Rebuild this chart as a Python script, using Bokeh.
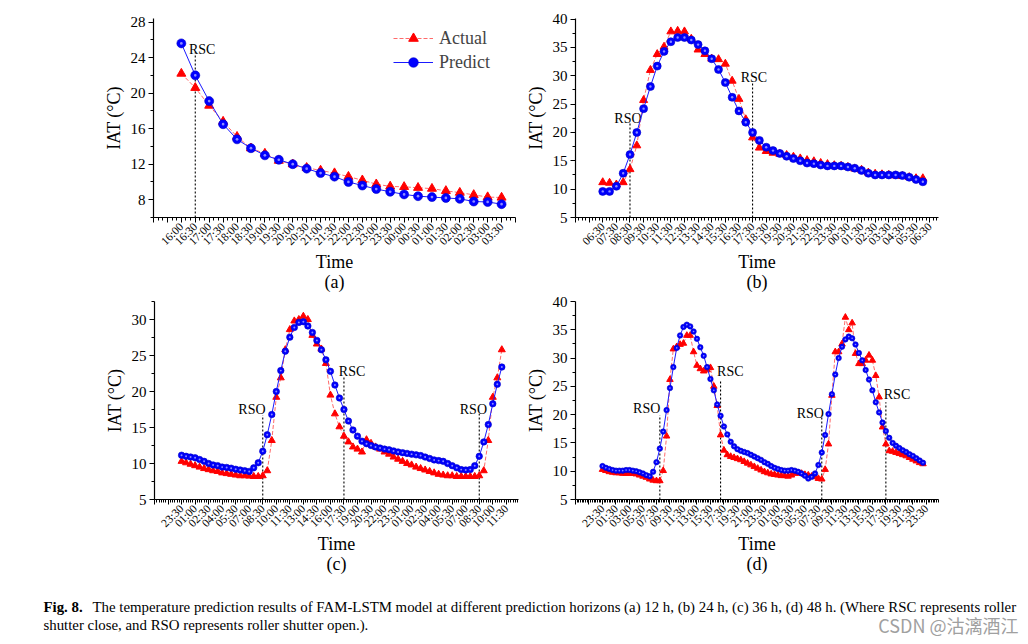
import math
from bokeh.plotting import figure
from bokeh.models import Range1d, FixedTicker, Legend, LegendItem
from bokeh.layouts import column, row
from bokeh.core.properties import value
from bokeh.embed import file_html
from bokeh.resources import INLINE

SERIF = "Liberation Serif"

# ---------------- data ----------------
# (a) 12 h, every 30 min
labels_a = ["16:00", "16:30", "17:00", "17:30", "18:00", "18:30", "19:00", "19:30",
            "20:00", "20:30", "21:00", "21:30", "22:00", "22:30", "23:00", "23:30",
            "00:00", "00:30", "01:00", "01:30", "02:00", "02:30", "03:00", "03:30"]
actual_a = [22.2, 20.6, 18.6, 16.8, 15.1, 13.8, 13.2, 12.4, 12.0, 11.6, 11.3, 11.0,
            10.6, 10.2, 9.75, 9.5, 9.45, 9.35, 9.25, 9.0, 8.8, 8.55, 8.3, 8.25]
predict_a = [25.6, 22.0, 19.1, 16.5, 14.8, 13.8, 13.0, 12.5, 12.0, 11.5, 11.0, 10.6,
             10.0, 9.6, 9.2, 8.9, 8.6, 8.4, 8.3, 8.2, 8.1, 7.8, 7.75, 7.5]

# (b) 24 h, every 30 min
labels_b = ["06:30", "07:30", "08:30", "09:30", "10:30", "11:30", "12:30", "13:30",
            "14:30", "15:30", "16:30", "17:30", "18:30", "19:30", "20:30", "21:30",
            "22:30", "23:30", "00:30", "01:30", "02:30", "03:30", "04:30", "05:30", "06:30"]
actual_b = [11.2, 11.1, 10.8, 11.2, 13.5, 17.7, 25.7, 31.0, 33.8, 35.1, 37.8, 37.9,
            37.8, 36.5, 34.6, 33.8, 33.0, 32.9, 32.1, 29.1, 25.9, 22.3, 19.1, 17.3,
            16.7, 16.4, 16.2, 16.0, 15.7, 15.4, 15.1, 14.9, 14.6, 14.4, 14.2, 14.1,
            13.9, 13.6, 13.4, 12.9, 12.7, 12.6, 12.5, 12.4, 12.3, 12.1, 11.9, 11.9]
predict_b = [9.6, 9.6, 10.5, 12.8, 16.1, 20.0, 24.2, 28.1, 31.7, 34.3, 36.0, 36.75,
             36.75, 36.3, 35.5, 34.4, 33.0, 31.1, 28.8, 26.2, 23.8, 21.8, 20.0, 18.6,
             17.4, 16.8, 16.3, 15.8, 15.4, 15.0, 14.6, 14.5, 14.25, 14.1, 14.1, 14.1,
             13.9, 13.7, 13.3, 12.8, 12.5, 12.5, 12.5, 12.5, 12.4, 12.1, 11.7, 11.3]

# (c) 36 h, every 30 min
labels_c = ["23:30", "01:00", "02:30", "04:00", "05:30", "07:00", "08:30", "10:00",
            "11:30", "13:00", "14:30", "16:00", "17:30", "19:00", "20:30", "22:00",
            "23:30", "01:00", "02:30", "04:00", "05:30", "07:00", "08:30", "10:00", "11:30"]
actual_c = [10.3, 10.1, 9.9, 9.7, 9.5, 9.3, 9.15, 9.0, 8.9, 8.7, 8.6, 8.5,
            8.4, 8.3, 8.3, 8.25, 8.2, 8.2, 8.3, 9.0, 13.2, 19.2, 21.9, 25.8,
            28.6, 29.8, 30.0, 30.45, 30.0, 27.8, 26.6, 25.9, 23.9, 19.5, 16.9, 15.1,
            13.8, 13.0, 12.3, 12.0, 11.6, 13.3, 12.8, 12.3, 12.0, 11.6, 11.3, 10.9,
            10.6, 10.3, 10.0, 9.8, 9.5, 9.3, 9.1, 8.9, 8.7, 8.5, 8.4, 8.3,
            8.3, 8.2, 8.2, 8.2, 8.2, 8.2, 8.3, 9.0, 13.2, 19.2, 21.9, 25.8]
predict_c = [11.15, 11.0, 10.9, 10.8, 10.55, 10.3, 10.0, 9.8, 9.7, 9.5, 9.45, 9.35,
             9.2, 9.1, 9.0, 8.9, 9.4, 10.1, 11.7, 14.0, 16.8, 20.0, 22.9, 25.6,
             27.55, 28.9, 29.6, 29.7, 29.1, 28.2, 27.1, 25.8, 24.4, 22.8, 20.9, 19.1,
             17.5, 15.9, 14.65, 13.8, 13.1, 12.75, 12.5, 12.3, 12.15, 12.0, 11.9, 11.75,
             11.6, 11.5, 11.4, 11.3, 11.2, 11.1, 10.9, 10.7, 10.5, 10.4, 10.3, 10.0,
             9.7, 9.4, 9.15, 9.1, 9.15, 9.7, 11.0, 13.0, 15.4, 18.3, 21.0, 23.4]

# (d) 48 h, every 30 min
labels_d = ["23:30", "01:30", "03:00", "05:30", "07:30", "09:30", "11:30", "13:00",
            "15:30", "17:30", "19:30", "21:00", "23:30", "01:00", "03:30", "05:30",
            "07:30", "09:30", "11:30", "13:30", "15:30", "17:30", "19:30", "21:30", "23:30"]
actual_d = [10.3, 10.1, 9.9, 9.8, 9.7, 9.7, 9.6, 9.6, 9.6, 9.6, 9.5, 9.3,
            9.1, 8.9, 8.6, 8.4, 8.3, 8.3, 10.1, 16.2, 26.2, 31.6, 32.0, 32.4,
            32.6, 34.0, 34.0, 31.1, 28.7, 28.1, 27.7, 27.9, 28.3, 25.0, 21.6, 16.4,
            13.7, 12.9, 12.6, 12.4, 12.2, 12.0, 11.7, 11.4, 11.1, 10.8, 10.5, 10.2,
            9.9, 9.7, 9.5, 9.4, 9.3, 9.2, 9.2, 9.1, 9.3, 9.6, 9.7, 9.6,
            9.4, 9.3, 9.1, 9.0, 8.7, 8.6, 10.3, 14.8, 23.4, 31.1, 31.1, 32.5,
            37.2, 35.0, 36.2, 30.8, 29.0, 29.0, 29.6, 30.5, 29.6, 26.9, 23.1, 17.8,
            14.8, 13.6, 13.5, 13.3, 13.1, 12.9, 12.7, 12.4, 12.1, 11.8, 11.5, 11.3]
predict_d = [10.9, 10.6, 10.4, 10.2, 10.1, 10.1, 10.1, 10.2, 10.2, 10.1, 10.0, 9.8,
             9.6, 9.3, 9.1, 9.9, 11.6, 14.0, 17.0, 20.8, 24.7, 28.4, 31.8, 34.0,
             35.5, 35.9, 35.6, 34.7, 33.4, 31.9, 30.4, 28.4, 26.3, 24.3, 21.8, 19.8,
             17.9, 16.5, 15.2, 14.4, 13.9, 13.6, 13.4, 13.2, 12.9, 12.6, 12.3, 12.0,
             11.6, 11.3, 10.9, 10.6, 10.4, 10.2, 10.1, 10.1, 10.2, 10.1, 9.9, 9.6,
             9.2, 8.7, 9.0, 9.6, 11.1, 13.3, 16.4, 20.1, 23.6, 27.1, 30.0, 32.0,
             33.3, 33.8, 33.5, 32.4, 30.9, 29.6, 27.9, 26.2, 24.3, 22.2, 20.4, 18.6,
             17.1, 15.9, 15.0, 14.5, 14.1, 13.7, 13.4, 13.0, 12.7, 12.3, 11.9, 11.5]

# roller shutter events: (x index of event, line top value, label, label x, label y)
events_a = [(1, 24.6, "RSC", 1.5, 24.9)]
events_b = [(4, 21.6, "RSO", 3.7, 22.5), (22, 28.65, "RSC", 22.2, 29.7)]
events_c = [(18, 16.7, "RSO", 15.6, 17.5), (36, 22.0, "RSC", 37.8, 22.8),
            (66, 16.9, "RSO", 64.7, 17.5)]
events_d = [(17, 19.9, "RSO", 13.1, 21.1), (35, 26.1, "RSC", 37.9, 27.6),
            (65, 19.9, "RSO", 61.6, 20.2), (84, 22.2, "RSC", 87.3, 23.6)]


def frange(a, b, step):
    out = []
    v = a
    while v <= b + 1e-9:
        out.append(round(v, 4))
        v += step
    return out


def make_panel(tag, width, height, borders, xr, label_step, minor_step, labels,
               yr, ymajor, yminor, actual, predict, tri, circ, events, legend=False):
    left, right, top, bottom = borders
    p = figure(width=width, height=height, x_range=Range1d(*xr), y_range=Range1d(*yr),
               output_backend="svg", toolbar_location=None, title=None,
               min_border_left=left, min_border_right=right,
               min_border_top=top, min_border_bottom=bottom)
    p.outline_line_color = None
    p.grid.visible = False
    p.background_fill_color = "white"
    p.border_fill_color = "white"

    n = len(actual)
    xs = list(range(n))

    # x axis ticks
    start = int(math.ceil(xr[0] / label_step)) * label_step
    majors = [t for t in range(start, int(xr[1]) + 1, label_step)]
    minors = [t for t in frange(xr[0], xr[1], minor_step)
              if abs(t / label_step - round(t / label_step)) > 1e-6]
    p.xaxis.ticker = FixedTicker(ticks=majors, minor_ticks=minors)
    overrides = {}
    for t in majors:
        k = t // label_step
        if t >= 0 and k < len(labels):
            overrides[t] = labels[k]
        else:
            overrides[t] = ""
    p.xaxis.major_label_overrides = overrides
    p.xaxis.major_label_orientation = math.pi / 4
    p.xaxis.major_label_text_font = SERIF
    p.xaxis.major_label_text_font_size = "11.5px"
    p.xaxis.major_label_standoff = 2
    p.xaxis.axis_label = "Time\n" + tag
    p.xaxis.axis_label_standoff = -3
    p.xaxis.axis_label_text_line_height = 1.0

    p.yaxis.ticker = FixedTicker(ticks=ymajor, minor_ticks=yminor)
    p.yaxis.major_label_text_font = SERIF
    p.yaxis.major_label_text_font_size = "15px"
    p.yaxis.major_label_standoff = 3
    p.yaxis.axis_label = "IAT (°C)"
    p.yaxis.axis_label_standoff = 4

    for ax in (p.xaxis, p.yaxis):
        ax.axis_label_text_font = SERIF
        ax.axis_label_text_font_size = "18px"
        ax.axis_label_text_font_style = "normal"
        ax.axis_label_text_color = "black"
        ax.major_label_text_color = "black"
        ax.axis_line_color = "black"
        ax.axis_line_width = 1.2
        ax.major_tick_line_color = "black"
        ax.minor_tick_line_color = "black"
        ax.major_tick_in = 0
        ax.major_tick_out = 5
        ax.minor_tick_in = 0
        ax.minor_tick_out = 3

    # event markers
    ex = [e[0] for e in events]
    etop = [e[1] for e in events]
    p.segment(x0=ex, y0=[yr[0]] * len(ex), x1=ex, y1=etop, line_color="black",
              line_width=1.1, line_dash="2 2")
    p.text(x=[e[3] for e in events], y=[e[4] for e in events], text=[e[2] for e in events],
           text_font=value(SERIF), text_font_size="14px", text_align="center",
           text_baseline="middle", text_color="black")

    # series
    r_al = p.line(xs, actual, line_color="#ff6a6a", line_width=1, line_dash="4 2")
    r_ap = p.scatter(xs, actual, marker="triangle", size=tri, fill_color="#ff0000",
                     line_color="#ff0000")
    r_pl = p.line(xs, predict, line_color="#1a1aff", line_width=1)
    r_pp = p.scatter(xs, predict, marker="circle", size=circ, fill_color="#0000ff",
                     line_color="#0000c8", line_width=0.6)
    p.scatter(xs, predict, marker="circle", size=circ * 0.3, fill_color="#8c8cff",
              line_color=None)

    if legend:
        lg = Legend(items=[LegendItem(label="Actual", renderers=[r_al, r_ap]),
                           LegendItem(label="Predict", renderers=[r_pl, r_pp])],
                    location=(240, 143))
        lg.label_text_font = SERIF
        lg.label_text_font_size = "18px"
        lg.glyph_width = 40
        lg.glyph_height = 24
        lg.label_height = 24
        lg.label_standoff = 6
        lg.spacing = 0
        lg.padding = 0
        lg.margin = 0
        lg.border_line_color = None
        lg.background_fill_alpha = 0
        p.add_layout(lg)
    return p


pa = make_panel("(a)", 522, 295, (153, 7, 15, 78), (-2, 24), 1, 1 / 3, labels_a,
                (6, 28.4), [8, 12, 16, 20, 24, 28], [6, 10, 14, 18, 22, 26],
                actual_a, predict_a, 9, 9, events_a, legend=True)
pb = make_panel("(b)", 506, 295, (52, 90, 18, 78), (-4, 49.3), 2, 0.5, labels_b,
                (5, 40.1), [5, 10, 15, 20, 25, 30, 35, 40],
                [7.5, 12.5, 17.5, 22.5, 27.5, 32.5, 37.5],
                actual_b, predict_b, 8, 8, events_b)
pc = make_panel("(c)", 522, 295, (154, 4, 6, 91), (-6, 74.7), 3, 0.5, labels_c,
                (5, 32.5), [5, 10, 15, 20, 25, 30], [7.5, 12.5, 17.5, 22.5, 27.5, 32.5],
                actual_c, predict_c, 7, 6.5, events_c)
pd = make_panel("(d)", 506, 295, (52, 90, 6, 91), (-8, 99.6), 4, 0.5, labels_d,
                (5, 40), [5, 10, 15, 20, 25, 30, 35, 40],
                [7.5, 12.5, 17.5, 22.5, 27.5, 32.5, 37.5],
                actual_d, predict_d, 6.5, 5.5, events_d)

# caption
cap = figure(width=1028, height=54, x_range=Range1d(0, 1028), y_range=Range1d(54, 0),
             output_backend="svg", toolbar_location=None, title=None,
             x_axis_location=None, y_axis_location=None, min_border=0)
cap.grid.visible = False
cap.outline_line_color = None
cap.text(x=[43], y=[16], text=["Fig. 8."], text_font=value(SERIF), text_font_style="bold",
         text_font_size="14.85px", text_baseline="middle", text_align="left", text_color="black")
cap.text(x=[92], y=[16],
         text=["The temperature prediction results of FAM-LSTM model at different prediction "
               "horizons (a) 12 h, (b) 24 h, (c) 36 h, (d) 48 h. (Where RSC represents roller"],
         text_font=value(SERIF), text_font_size="14.85px", text_baseline="middle",
         text_align="left", text_color="black")
cap.text(x=[43], y=[34], text=["shutter close, and RSO represents roller shutter open.)."],
         text_font=value(SERIF), text_font_size="14.85px", text_baseline="middle",
         text_align="left", text_color="black")
cap.text(x=[1018], y=[34], text=["CSDN @沽漓酒江"], text_font=value("Noto Sans CJK SC"),
         text_font_size="18px", text_baseline="middle", text_align="right",
         text_color="#a0a0a0")

layout = column(row(pa, pb), row(pc, pd), cap)
open("out.html", "w").write(file_html(layout, INLINE))
